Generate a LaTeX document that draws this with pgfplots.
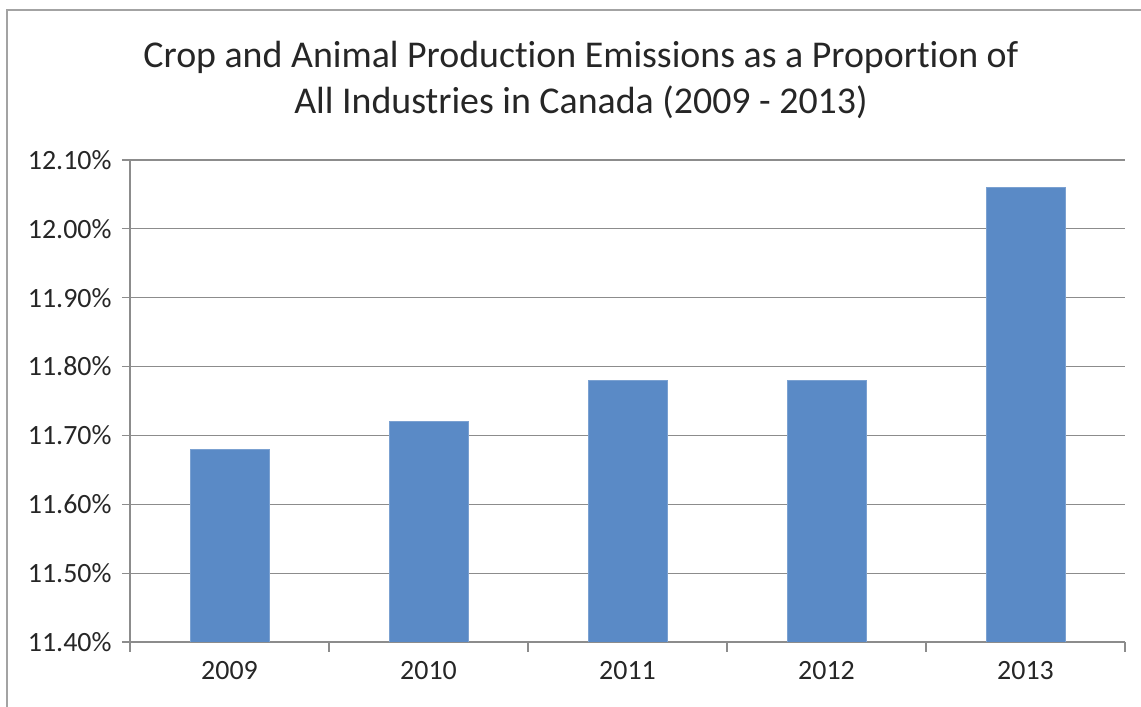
\documentclass[border=0pt]{standalone}
\usepackage{pgfplots}
\pgfplotsset{compat=1.18}
\usepackage{fontspec}
\setmainfont{Carlito}[Ligatures={NoCommon}]
\definecolor{barblue}{HTML}{5A8AC6}
\definecolor{gridgray}{HTML}{8C8C8C}
\begin{document}
\begin{tikzpicture}[x=1bp,y=1bp]
\useasboundingbox (0,0) rectangle (1141,707);
\draw[gridgray!80,line width=2.5bp] (7,-20) -- (7,697) -- (1160,697);
\node[font=\fontsize{38}{46}\selectfont,align=center,text=black!85] at (581,627) {Crop and Animal Production Emissions as a Proportion of\\All Industries in Canada (2009 - 2013)};
\begin{axis}[
  at={(130bp,65bp)}, anchor=south west,
  scale only axis, width=995bp, height=482bp,
  xmin=-0.5, xmax=4.5, ymin=11.4, ymax=12.1,
  axis x line*=bottom, axis y line*=left,
  axis line style={gridgray, line width=1.2bp, -},
  xtick={0,1,2,3,4},
  xticklabels={2009,2010,2011,2012,2013},
  minor xtick={-0.5,0.5,1.5,2.5,3.5,4.5},
  ytick={11.4,11.5,11.6,11.7,11.8,11.9,12.0,12.1},
  yticklabels={11.40\%,11.50\%,11.60\%,11.70\%,11.80\%,11.90\%,12.00\%,12.10\%},
  tick align=outside,
  major tick length=8bp, minor tick length=10bp,
  xtick style={draw=none},
  minor x tick style={draw=gridgray, line width=1.2bp},
  ytick style={draw=gridgray, line width=1.2bp},
  ymajorgrids, grid style={gridgray, line width=1.2bp},
  ticklabel style={font=\fontsize{28}{32}\selectfont, text=black!85},
  yticklabel style={xshift=-7bp},
  xticklabel style={yshift=-8bp},
  ybar, bar width=79bp,
]
\addplot[fill=barblue, draw=barblue!80!white] coordinates {(0,11.68) (1,11.72) (2,11.78) (3,11.78) (4,12.06)};
\end{axis}
\end{tikzpicture}
\end{document}
